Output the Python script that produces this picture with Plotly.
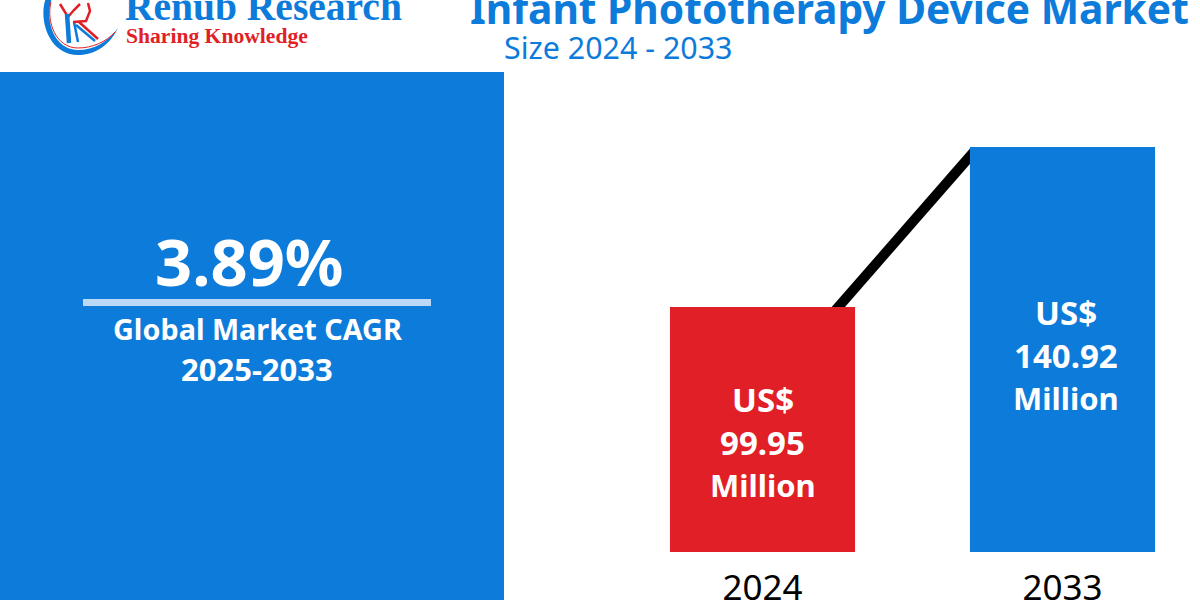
import plotly.graph_objects as go

years = ["2024", "2033"]
market_size = [99.95, 140.92]
cagr = "3.89%"

BLUE = "#0D7BDA"
RED = "#E01F26"
W, H = 1200, 600


def px(x):
    return x / W


def py(y):
    return 1 - y / H


def label(text, x, y, size, color="white", family="Noto Sans", anchor="center", bold=True):
    t = f"<b>{text}</b>" if bold else text
    return dict(text=t, x=px(x), y=py(y), xref="paper", yref="paper", xanchor=anchor, yanchor="middle",
                showarrow=False, font=dict(family=family, size=size, color=color))


def path_px(points):
    return "M " + " L ".join(f"{px(x)},{py(y)}" for x, y in points)


def curve_px(start, *segments):
    out = f"M {px(start[0])},{py(start[1])}"
    for seg in segments:
        out += " C " + " ".join(f"{px(x)},{py(y)}" for x, y in seg)
    return out


fig = go.Figure()
fig.add_trace(go.Bar(x=years, y=market_size, width=0.617, marker=dict(color=[RED, BLUE], line=dict(width=0)),
                     hoverinfo="skip"))

crescent = curve_px((46, -2),
                    [(38, 18), (48, 55), (78, 55)],
                    [(95, 55), (110, 45), (118, 28)],
                    [(108, 42), (94, 50), (78, 50)],
                    [(54, 50), (44, 20), (52, -2)]) + " Z"
red_arc = curve_px((51, 2), [(46, 22), (56, 48), (78, 48)], [(92, 48), (106, 42), (115, 32)])

shapes = [
    # left panel and rule
    dict(type="rect", xref="paper", yref="paper", x0=0, x1=px(504), y0=py(600), y1=py(72), fillcolor=BLUE,
         line=dict(width=0), layer="below"),
    dict(type="rect", xref="paper", yref="paper", x0=px(83), x1=px(431), y0=py(306), y1=py(299), fillcolor="#BBD9F5",
         line=dict(width=0)),
    # growth line behind the bars
    dict(type="line", xref="x", yref="y", x0=0.2, y0=95.3, x1=0.705, y1=139.74, line=dict(color="black", width=10),
         layer="below"),
    # logo
    dict(type="path", xref="paper", yref="paper", fillcolor=BLUE, line=dict(width=0), path=crescent),
    dict(type="path", xref="paper", yref="paper", line=dict(color=RED, width=1), path=red_arc),
    dict(type="path", xref="paper", yref="paper", line=dict(color=RED, width=2.5),
         path=path_px([(60, 4), (68, 17), (74, 10), (80, 4)])),
    dict(type="path", xref="paper", yref="paper", line=dict(color=BLUE, width=4.5),
         path=path_px([(67, 14), (68, 28), (69, 43)])),
    dict(type="path", xref="paper", yref="paper", line=dict(color=BLUE, width=2.5),
         path=path_px([(74, 22), (78, 42)])),
    dict(type="path", xref="paper", yref="paper", line=dict(color=BLUE, width=2.5),
         path=path_px([(76, 25), (95, 41)])),
    dict(type="path", xref="paper", yref="paper", line=dict(color=RED, width=2.5),
         path=path_px([(79, 22), (98, 39)])),
    dict(type="path", xref="paper", yref="paper", line=dict(color=RED, width=2.5),
         path=path_px([(73, 22), (86, 21), (90, 11), (88, 3)])),
]

annotations = [
    label("Renub Research", 123, 7, 39.5, color=BLUE, family="Liberation Serif", anchor="left"),
    label("Sharing Knowledge", 124, 36, 21.6, color=RED, family="Liberation Serif", anchor="left"),
    label("Infant Phototherapy Device Market", 468, 8, 40.7, color=BLUE, anchor="left"),
    label("Size 2024 - 2033", 502, 47, 30.4, color=BLUE, anchor="left", bold=False),
    label(cagr, 249, 261, 65),
    label("Global Market CAGR", 257, 328, 28.8),
    label("2025-2033", 257, 369, 31),
]
# bar captions sit a little off the bar centre, one annotation per line to get the wider spacing
for i, (value, y_pos, shift) in enumerate(zip(market_size, [442, 355], [0, 3])):
    lines = [("US$", -43, 33), (str(value), 0, 33), ("Million", 43, 31)]
    for text, offset, size in lines:
        annotations.append(dict(text=f"<b>{text}</b>", x=i, y=py(y_pos + offset), xref="x", yref="paper",
                                xanchor="center", yanchor="middle", showarrow=False, xshift=shift,
                                font=dict(family="Noto Sans", size=size, color="white")))

fig.update_layout(
    width=W,
    height=H,
    margin=dict(l=0, r=0, t=0, b=0),
    paper_bgcolor="white",
    plot_bgcolor="rgba(0,0,0,0)",
    showlegend=False,
    shapes=shapes,
    annotations=annotations,
    xaxis=dict(type="category", range=[-2.5417, 1.4583], domain=[0, 1], showgrid=False, zeroline=False,
               automargin=False, showline=False, ticks="", tickvals=years, ticktext=years, ticklabelstandoff=12,
               tickfont=dict(family="Noto Sans", size=35, color="black")),
    yaxis=dict(range=[37.2, 140.92], domain=[py(552), py(147)], visible=False, automargin=False),
)

# the page has a default body margin, the panel has to touch the window edge
fig.write_html("out.html", config={"displayModeBar": False},
               post_script="document.body.style.margin='0';document.documentElement.style.overflow='hidden';")
